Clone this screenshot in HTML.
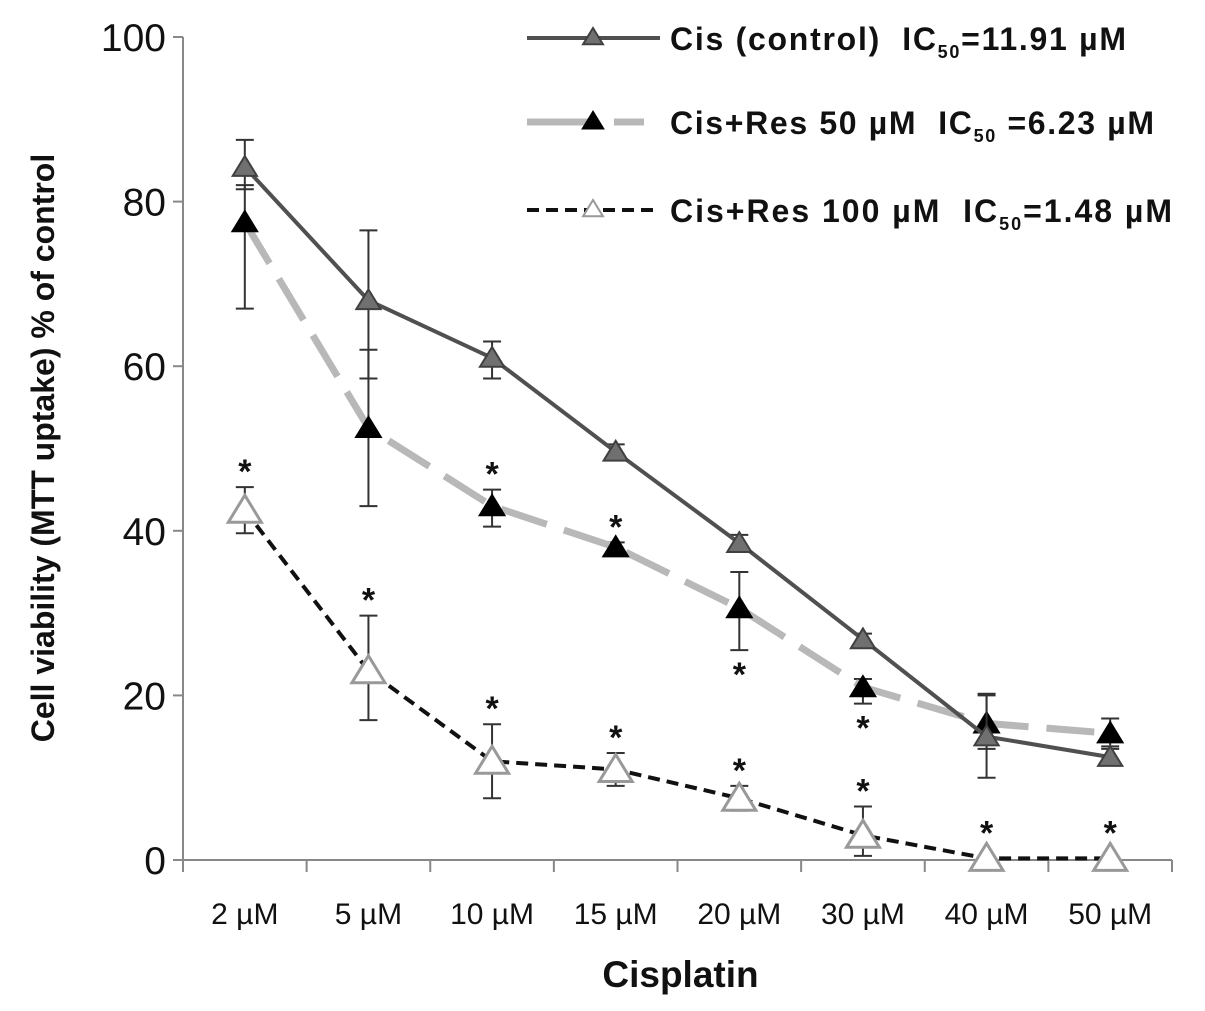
<!DOCTYPE html>
<html><head><meta charset="utf-8"><style>
html,body{margin:0;padding:0;background:#fff;}
svg{display:block;font-family:"Liberation Sans",sans-serif;}
.lg{white-space:pre;}
</style></head><body>
<svg id="chart" width="1205" height="1011" viewBox="0 0 1205 1011">
<g id="axes"></g>
<g id="series"></g>
<g id="legend"></g>
</svg>
<script>
const categories=["2 µM","5 µM","10 µM","15 µM","20 µM","30 µM","40 µM","50 µM"];
const yTicks=[0,20,40,60,80,100];
const ctrlVals=[84.2,68,61,49.6,38.5,26.8,15,12.5];
const ctrlHi=[87.5,76.5,63,50.5,39.5,27.5,20.2,13.5];
const ctrlLo=[81.5,58.5,58.5,49,37.8,26.2,10,11.8];
const res50Vals=[77.5,52.5,43,38,30.6,21,16.6,15.4];
const res50Hi=[82,62,45,38.6,35,22,20,17.2];
const res50Lo=[67,43,40.5,37.5,25.5,19,13.5,13.8];
const res100Vals=[42.5,23,12,11,7.5,3,0.2,0.2];
const res100Hi=[45.3,29.7,16.5,13,9,6.5,0.2,0.2];
const res100Lo=[39.7,17,7.5,9,6,0.5,0.2,0.2];
const starAbove100=[1,1,1,1,1,1,1,1];
const starAbove50=[0,0,1,1,0,0,0,0];
const starBelow50=[0,0,0,0,1,1,0,0];

const NS="http://www.w3.org/2000/svg";
const X0=183,X1=1172,Y0=860,Y1=37;
const band=(X1-X0)/categories.length;
const xs=i=>X0+band*(i+0.5);
const ys=v=>Y0-(v/100)*(Y0-Y1);
function el(tag,attrs,parent,text){const e=document.createElementNS(NS,tag);for(const k in attrs)e.setAttribute(k,attrs[k]);if(text!==undefined)e.textContent=text;parent.appendChild(e);return e;}
const axes=document.getElementById('axes'),ser=document.getElementById('series'),leg=document.getElementById('legend');

let a=el('line',{x1:X0,y1:Y1,x2:X0,y2:Y0,stroke:'#888','stroke-width':2},axes);


a=el('line',{x1:X0,y1:Y0,x2:X1,y2:Y0,stroke:'#888','stroke-width':2},axes);


yTicks.forEach(t=>{
 const y=ys(t);
 const tk=el('line',{x1:X0-10,y1:y,x2:X0,y2:y,stroke:'#888','stroke-width':2},axes);
 
 
 const lb=el('text',{x:X0-17,y:y+14,'text-anchor':'end','font-size':39,fill:'#111'},axes,String(t));
 
 
});
for(let i=0;i<=categories.length;i++){
 const x=X0+band*i;
 const tk=el('line',{x1:x,y1:Y0,x2:x,y2:Y0+12,stroke:'#888','stroke-width':2},axes);
 
 
}
categories.forEach((c,i)=>{
 const lb=el('text',{x:xs(i),y:Y0+64,'text-anchor':'middle','font-size':30,fill:'#111'},axes,c);
 
 
});
let t=el('text',{x:(X0+X1)/2+3,y:987,'text-anchor':'middle','font-size':37,'font-weight':'bold',fill:'#111'},axes,'Cisplatin');


t=el('text',{x:0,y:0,'text-anchor':'middle','font-size':32,'font-weight':'bold',fill:'#111',transform:'translate(54,448) rotate(-90)'},axes,'Cell viability (MTT uptake) % of control');



function tri(cx,cy,s,fill,stroke,sw,parent){
 return el('polygon',{points:`${cx},${cy-s} ${cx-s*1.1},${cy+s*0.8} ${cx+s*1.1},${cy+s*0.8}`,fill:fill,stroke:stroke,'stroke-width':sw},parent);
}
function series(vals,hi,lo,name,lineStyle,mk){
 const g=el('g',{},ser);
 
 
 vals.forEach((v,i)=>{
  if(hi[i]-lo[i]<0.3)return;
  const x=xs(i);
  const e=el('path',{d:`M${x},${ys(hi[i])}V${ys(lo[i])}M${x-9},${ys(hi[i])}H${x+9}M${x-9},${ys(lo[i])}H${x+9}`,stroke:'#333','stroke-width':2,fill:'none'},g);
  
  
 });
 const ln=el('polyline',Object.assign({points:vals.map((v,i)=>xs(i)+','+ys(v)).join(' '),fill:'none'},lineStyle),g);
 
 
 vals.forEach((v,i)=>{
  const m=tri(xs(i),ys(v),mk.s,mk.fill,mk.stroke,mk.sw,g);
  
  
 });
}
series(res50Vals,res50Hi,res50Lo,'series-res50',{stroke:'#b8b8b8','stroke-width':7,'stroke-dasharray':'48 18'},{s:12,fill:'#000',stroke:'#000',sw:1});
series(ctrlVals,ctrlHi,ctrlLo,'series-control',{stroke:'#505050','stroke-width':4},{s:11,fill:'#707070',stroke:'#404040',sw:2});
series(res100Vals,res100Hi,res100Lo,'series-res100',{stroke:'#111','stroke-width':4,'stroke-dasharray':'12 7'},{s:15,fill:'#fff',stroke:'#999',sw:3});

function star(x,y){const s=el('text',{x:x,y:y,'text-anchor':'middle','font-size':34,'font-weight':'bold',fill:'#111'},ser,'*');
 
 }
categories.forEach((c,i)=>{
 if(starAbove100[i])star(xs(i),ys(res100Hi[i])-4+(res100Hi[i]-res100Vals[i]<0.3?-10:0));
 if(starAbove50[i])star(xs(i),ys(res50Hi[i])-4);
 if(starBelow50[i])star(xs(i),ys(res50Lo[i])+36);
});

const legItems=[
 {y:38,w:456,label:'Cis (control)  IC',val:'=11.91 µM',ln:{stroke:'#505050','stroke-width':4},mk:{s:9,fill:'#707070',stroke:'#404040',sw:2},name:'legend-control'},
 {y:122,w:484,label:'Cis+Res 50 µM  IC',val:' =6.23 µM',ln:{stroke:'#b8b8b8','stroke-width':7,'stroke-dasharray':'62 25 30 100'},mk:{s:10,fill:'#000',stroke:'#000',sw:1},name:'legend-res50'},
 {y:210,w:502,label:'Cis+Res 100 µM  IC',val:'=1.48 µM',ln:{stroke:'#111','stroke-width':4,'stroke-dasharray':'12 7'},mk:{s:9,fill:'#fff',stroke:'#999',sw:2},name:'legend-res100'}
];
legItems.forEach(it=>{
 const g=el('g',{},leg);
 
 
 el('line',Object.assign({x1:527,y1:it.y,x2:660,y2:it.y},it.ln),g);
 tri(593,it.y-1,it.mk.s,it.mk.fill,it.mk.stroke,it.mk.sw,g);
 const tx=el('text',{class:'lg',x:670,y:it.y+12,'font-size':32,'font-weight':'bold',fill:'#111',textLength:it.w,lengthAdjust:'spacing'},g);
 el('tspan',{},tx,it.label);
 el('tspan',{'font-size':18,dy:8},tx,'50');
 el('tspan',{dy:-8},tx,it.val);
});
</script>
</body></html>
